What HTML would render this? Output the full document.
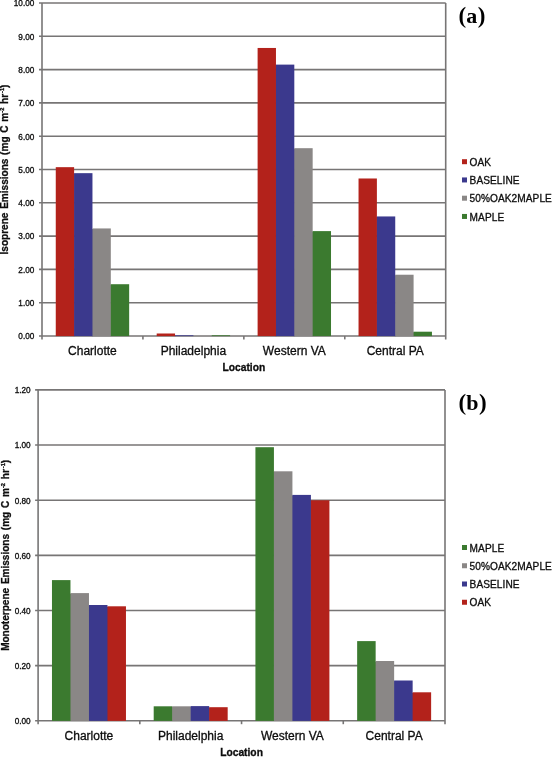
<!DOCTYPE html>
<html><head><meta charset="utf-8"><title>Emissions by location</title>
<style>
html,body{margin:0;padding:0;background:#fff;}
body{width:552px;height:757px;overflow:hidden;}
svg{display:block;will-change:transform;}
text{font-family:"Liberation Sans",sans-serif;fill:#0d0d0d;stroke:#0d0d0d;stroke-width:0.3px;}
.tk{font-size:8.2px;}
.cat{font-size:12px;}
.ttl{font-size:10.25px;font-weight:bold;}
.yt{font-size:10.04px;font-weight:bold;word-spacing:1px;}
.lg{font-size:10.1px;letter-spacing:0.08px;}
.pn{font-family:"Liberation Serif",serif;font-weight:bold;font-size:22px;fill:#000;stroke:none;}
</style></head><body>
<svg width="552" height="757" viewBox="0 0 552 757">
<rect width="552" height="757" fill="#fff"/>
<line x1="39.00" y1="336.00" x2="445.70" y2="336.00" stroke="#777575" stroke-width="1.6"/>
<text class="tk" x="34.30" y="339.30" text-anchor="end">0.00</text>
<line x1="39.00" y1="302.70" x2="445.70" y2="302.70" stroke="#777575" stroke-width="1.6"/>
<text class="tk" x="34.30" y="306.00" text-anchor="end">1.00</text>
<line x1="39.00" y1="269.40" x2="445.70" y2="269.40" stroke="#777575" stroke-width="1.6"/>
<text class="tk" x="34.30" y="272.70" text-anchor="end">2.00</text>
<line x1="39.00" y1="236.10" x2="445.70" y2="236.10" stroke="#777575" stroke-width="1.6"/>
<text class="tk" x="34.30" y="239.40" text-anchor="end">3.00</text>
<line x1="39.00" y1="202.80" x2="445.70" y2="202.80" stroke="#777575" stroke-width="1.6"/>
<text class="tk" x="34.30" y="206.10" text-anchor="end">4.00</text>
<line x1="39.00" y1="169.50" x2="445.70" y2="169.50" stroke="#777575" stroke-width="1.6"/>
<text class="tk" x="34.30" y="172.80" text-anchor="end">5.00</text>
<line x1="39.00" y1="136.20" x2="445.70" y2="136.20" stroke="#777575" stroke-width="1.6"/>
<text class="tk" x="34.30" y="139.50" text-anchor="end">6.00</text>
<line x1="39.00" y1="102.90" x2="445.70" y2="102.90" stroke="#777575" stroke-width="1.6"/>
<text class="tk" x="34.30" y="106.20" text-anchor="end">7.00</text>
<line x1="39.00" y1="69.60" x2="445.70" y2="69.60" stroke="#777575" stroke-width="1.6"/>
<text class="tk" x="34.30" y="72.90" text-anchor="end">8.00</text>
<line x1="39.00" y1="36.30" x2="445.70" y2="36.30" stroke="#777575" stroke-width="1.6"/>
<text class="tk" x="34.30" y="39.60" text-anchor="end">9.00</text>
<line x1="39.00" y1="3.00" x2="445.70" y2="3.00" stroke="#777575" stroke-width="1.6"/>
<text class="tk" x="34.30" y="6.30" text-anchor="end">10.00</text>
<line x1="42.00" y1="3.00" x2="42.00" y2="339.40" stroke="#777575" stroke-width="1.6"/>
<line x1="445.70" y1="3.00" x2="445.70" y2="339.40" stroke="#777575" stroke-width="1.6"/>
<line x1="142.93" y1="336.00" x2="142.93" y2="339.40" stroke="#777575" stroke-width="1.6"/>
<line x1="243.85" y1="336.00" x2="243.85" y2="339.40" stroke="#777575" stroke-width="1.6"/>
<line x1="344.77" y1="336.00" x2="344.77" y2="339.40" stroke="#777575" stroke-width="1.6"/>
<rect x="73.51" y="173.76" width="1.2" height="162.34" fill="#b3221b"/>
<rect x="55.76" y="167.17" width="18.35" height="168.93" fill="#b3221b"/>
<rect x="91.86" y="229.04" width="1.2" height="107.06" fill="#3b398d"/>
<rect x="74.11" y="173.16" width="18.35" height="162.94" fill="#3b398d"/>
<rect x="110.21" y="284.82" width="1.2" height="51.28" fill="#8a8786"/>
<rect x="92.46" y="228.44" width="18.35" height="107.66" fill="#8a8786"/>
<rect x="110.81" y="284.22" width="18.35" height="51.88" fill="#3b7a2f"/>
<text class="cat" x="92.46" y="355.20" text-anchor="middle">Charlotte</text>
<rect x="174.44" y="335.90" width="1.2" height="0.20" fill="#b3221b"/>
<rect x="156.69" y="333.50" width="18.35" height="2.60" fill="#b3221b"/>
<rect x="175.04" y="335.30" width="18.35" height="0.80" fill="#3b398d"/>
<rect x="211.74" y="335.30" width="18.35" height="0.80" fill="#3b7a2f"/>
<text class="cat" x="193.39" y="355.20" text-anchor="middle">Philadelphia</text>
<rect x="275.36" y="65.21" width="1.2" height="270.89" fill="#b3221b"/>
<rect x="257.61" y="47.96" width="18.35" height="288.14" fill="#b3221b"/>
<rect x="293.71" y="148.79" width="1.2" height="187.31" fill="#3b398d"/>
<rect x="275.96" y="64.61" width="18.35" height="271.50" fill="#3b398d"/>
<rect x="312.06" y="231.71" width="1.2" height="104.39" fill="#8a8786"/>
<rect x="294.31" y="148.19" width="18.35" height="187.91" fill="#8a8786"/>
<rect x="312.66" y="231.11" width="18.35" height="104.99" fill="#3b7a2f"/>
<text class="cat" x="294.31" y="355.20" text-anchor="middle">Western VA</text>
<rect x="376.29" y="217.05" width="1.2" height="119.05" fill="#b3221b"/>
<rect x="358.54" y="178.49" width="18.35" height="157.61" fill="#b3221b"/>
<rect x="394.64" y="275.33" width="1.2" height="60.77" fill="#3b398d"/>
<rect x="376.89" y="216.45" width="18.35" height="119.65" fill="#3b398d"/>
<rect x="412.99" y="332.30" width="1.2" height="3.80" fill="#8a8786"/>
<rect x="395.24" y="274.73" width="18.35" height="61.37" fill="#8a8786"/>
<rect x="413.59" y="331.70" width="18.35" height="4.40" fill="#3b7a2f"/>
<text class="cat" x="395.24" y="355.20" text-anchor="middle">Central PA</text>
<text class="ttl" x="243.85" y="370.80" text-anchor="middle">Location</text>
<text class="yt" transform="translate(8.40,169.50) rotate(-90)" text-anchor="middle">Isoprene Emissions (mg C m<tspan dy="-4.3" font-size="5.7px">-2</tspan><tspan dy="4.3"> hr</tspan><tspan dy="-4.3" dx="0.9" font-size="5.7px">-1</tspan><tspan dy="4.3">)</tspan></text>
<text class="pn" x="458.4" y="22.6"><tspan font-size="23px" dy="0.2">(</tspan><tspan dy="-0.2" dx="0.3">a</tspan><tspan font-size="23px" dy="0.2" dx="0.3">)</tspan></text>
<rect x="462" y="159.20" width="5" height="5" fill="#b3221b"/>
<text class="lg" x="469.6" y="165.90">OAK</text>
<rect x="462" y="177.45" width="5" height="5" fill="#3b398d"/>
<text class="lg" x="469.6" y="184.15">BASELINE</text>
<rect x="462" y="195.70" width="5" height="5" fill="#8a8786"/>
<text class="lg" x="469.6" y="202.40">50%OAK2MAPLE</text>
<rect x="462" y="213.95" width="5" height="5" fill="#3b7a2f"/>
<text class="lg" x="469.6" y="220.65">MAPLE</text>
<line x1="35.10" y1="720.80" x2="445.00" y2="720.80" stroke="#777575" stroke-width="1.6"/>
<text class="tk" x="30.60" y="724.10" text-anchor="end">0.00</text>
<line x1="35.10" y1="665.65" x2="445.00" y2="665.65" stroke="#777575" stroke-width="1.6"/>
<text class="tk" x="30.60" y="668.95" text-anchor="end">0.20</text>
<line x1="35.10" y1="610.50" x2="445.00" y2="610.50" stroke="#777575" stroke-width="1.6"/>
<text class="tk" x="30.60" y="613.80" text-anchor="end">0.40</text>
<line x1="35.10" y1="555.35" x2="445.00" y2="555.35" stroke="#777575" stroke-width="1.6"/>
<text class="tk" x="30.60" y="558.65" text-anchor="end">0.60</text>
<line x1="35.10" y1="500.20" x2="445.00" y2="500.20" stroke="#777575" stroke-width="1.6"/>
<text class="tk" x="30.60" y="503.50" text-anchor="end">0.80</text>
<line x1="35.10" y1="445.05" x2="445.00" y2="445.05" stroke="#777575" stroke-width="1.6"/>
<text class="tk" x="30.60" y="448.35" text-anchor="end">1.00</text>
<line x1="35.10" y1="389.90" x2="445.00" y2="389.90" stroke="#777575" stroke-width="1.6"/>
<text class="tk" x="30.60" y="393.20" text-anchor="end">1.20</text>
<line x1="38.10" y1="389.90" x2="38.10" y2="724.20" stroke="#777575" stroke-width="1.6"/>
<line x1="445.00" y1="389.90" x2="445.00" y2="724.20" stroke="#777575" stroke-width="1.6"/>
<line x1="139.82" y1="720.80" x2="139.82" y2="724.20" stroke="#777575" stroke-width="1.6"/>
<line x1="241.55" y1="720.80" x2="241.55" y2="724.20" stroke="#777575" stroke-width="1.6"/>
<line x1="343.27" y1="720.80" x2="343.27" y2="724.20" stroke="#777575" stroke-width="1.6"/>
<rect x="69.87" y="593.70" width="1.2" height="127.20" fill="#3b7a2f"/>
<rect x="51.97" y="580.10" width="18.50" height="140.80" fill="#3b7a2f"/>
<rect x="88.36" y="605.60" width="1.2" height="115.30" fill="#8a8786"/>
<rect x="70.47" y="593.10" width="18.50" height="127.80" fill="#8a8786"/>
<rect x="106.86" y="606.90" width="1.2" height="114.00" fill="#3b398d"/>
<rect x="88.96" y="605.00" width="18.50" height="115.90" fill="#3b398d"/>
<rect x="107.46" y="606.30" width="18.50" height="114.60" fill="#b3221b"/>
<text class="cat" x="88.96" y="740.40" text-anchor="middle">Charlotte</text>
<rect x="171.59" y="706.90" width="1.2" height="14.00" fill="#3b7a2f"/>
<rect x="153.70" y="706.30" width="18.50" height="14.60" fill="#3b7a2f"/>
<rect x="190.09" y="706.90" width="1.2" height="14.00" fill="#8a8786"/>
<rect x="172.19" y="706.30" width="18.50" height="14.60" fill="#8a8786"/>
<rect x="208.58" y="707.80" width="1.2" height="13.10" fill="#3b398d"/>
<rect x="190.69" y="706.10" width="18.50" height="14.80" fill="#3b398d"/>
<rect x="209.18" y="707.20" width="18.50" height="13.70" fill="#b3221b"/>
<text class="cat" x="190.69" y="740.40" text-anchor="middle">Philadelphia</text>
<rect x="273.32" y="471.90" width="1.2" height="249.00" fill="#3b7a2f"/>
<rect x="255.42" y="447.20" width="18.50" height="273.70" fill="#3b7a2f"/>
<rect x="291.81" y="495.50" width="1.2" height="225.40" fill="#8a8786"/>
<rect x="273.92" y="471.30" width="18.50" height="249.60" fill="#8a8786"/>
<rect x="310.31" y="500.90" width="1.2" height="220.00" fill="#3b398d"/>
<rect x="292.41" y="494.90" width="18.50" height="226.00" fill="#3b398d"/>
<rect x="310.91" y="500.30" width="18.50" height="220.60" fill="#b3221b"/>
<text class="cat" x="292.41" y="740.40" text-anchor="middle">Western VA</text>
<rect x="375.04" y="661.60" width="1.2" height="59.30" fill="#3b7a2f"/>
<rect x="357.15" y="641.10" width="18.50" height="79.80" fill="#3b7a2f"/>
<rect x="393.54" y="681.10" width="1.2" height="39.80" fill="#8a8786"/>
<rect x="375.64" y="661.00" width="18.50" height="59.90" fill="#8a8786"/>
<rect x="412.03" y="692.90" width="1.2" height="28.00" fill="#3b398d"/>
<rect x="394.14" y="680.50" width="18.50" height="40.40" fill="#3b398d"/>
<rect x="412.63" y="692.30" width="18.50" height="28.60" fill="#b3221b"/>
<text class="cat" x="394.14" y="740.40" text-anchor="middle">Central PA</text>
<text class="ttl" x="241.55" y="756.10" text-anchor="middle">Location</text>
<text class="yt" transform="translate(9.10,555.35) rotate(-90)" text-anchor="middle">Monoterpene Emissions (mg C m<tspan dy="-4.3" font-size="5.7px">-2</tspan><tspan dy="4.3"> hr</tspan><tspan dy="-4.3" dx="0.9" font-size="5.7px">-1</tspan><tspan dy="4.3">)</tspan></text>
<text class="pn" x="458.4" y="409.9"><tspan font-size="23px" dy="0.2">(</tspan><tspan dy="-0.2" dx="0.3">b</tspan><tspan font-size="23px" dy="0.2" dx="0.3">)</tspan></text>
<rect x="462" y="545.00" width="5" height="5" fill="#3b7a2f"/>
<text class="lg" x="469.6" y="551.70">MAPLE</text>
<rect x="462" y="563.25" width="5" height="5" fill="#8a8786"/>
<text class="lg" x="469.6" y="569.95">50%OAK2MAPLE</text>
<rect x="462" y="581.50" width="5" height="5" fill="#3b398d"/>
<text class="lg" x="469.6" y="588.20">BASELINE</text>
<rect x="462" y="599.75" width="5" height="5" fill="#b3221b"/>
<text class="lg" x="469.6" y="606.45">OAK</text>
</svg>
</body></html>
